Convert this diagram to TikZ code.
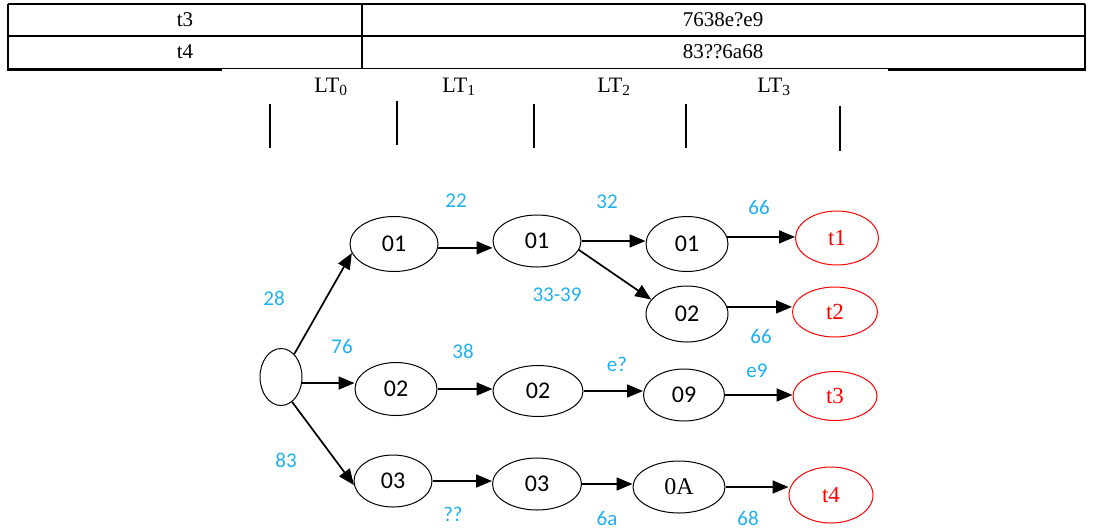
\documentclass[tikz,border=0pt]{standalone}
\usepackage{fontspec}
\setmainfont{Liberation Serif}
\newfontfamily\calfont{Carlito}
\usetikzlibrary{shapes.geometric,arrows.meta}
\definecolor{lblblue}{RGB}{30,176,240}
\tikzset{
  x=1pt, y=-1pt,
  st/.style={ellipse, draw=black, line width=1pt, inner sep=0pt,
             font=\calfont\fontsize{24}{26}\selectfont},
  fin/.style={ellipse, draw=red, line width=1pt, inner sep=0pt, text=red,
              font=\fontsize{23}{25}\selectfont},
  lbl/.style={text=lblblue, font=\calfont\fontsize{21}{23}\selectfont, inner sep=0pt},
  arr/.style={line width=1.7pt, -{Triangle[length=16pt,width=13pt]}},
  tbl/.style={line width=1.3pt},
  cell/.style={font=\fontsize{21}{23}\selectfont, inner sep=0pt},
  bar/.style={line width=1.3pt},
  lt/.style={font=\fontsize{22}{24}\selectfont, inner sep=0pt}
}
\begin{document}
\begin{tikzpicture}
\useasboundingbox (0,0) rectangle (1094,531);

% table of paths
\draw[tbl] (8,4) -- (1085,4);
\draw[tbl] (8,36) -- (1085,36);
\draw[tbl] (8,68.5) -- (1085,68.5);
\draw[line width=3pt] (7,69.5) -- (222,69.5);
\draw[line width=3pt] (888,69.5) -- (1086,69.5);
\draw[tbl] (8,4) -- (8,69);
\draw[tbl] (362,4) -- (362,68.5);
\draw[tbl] (1085,4) -- (1085,69);
\node[cell] (r3a) at (185,20) {t3};
\node[cell] (r3b) at (723,20) {7638e?e9};
\node[cell] (r4a) at (185,52) {t4};
\node[cell] (r4b) at (723,52) {83??6a68};

% levels
\node[lt] (lt0) at (331,87) {LT\textsubscript{0}};
\node[lt] (lt1) at (459,87) {LT\textsubscript{1}};
\node[lt] (lt2) at (614,87) {LT\textsubscript{2}};
\node[lt] (lt3) at (774,87) {LT\textsubscript{3}};
\draw[bar] (270,104) -- (270,148);
\draw[bar] (397,101) -- (397,145);
\draw[bar] (534,104) -- (534,148);
\draw[bar] (686,104) -- (686,148);
\draw[bar] (840,106) -- (840,151);

% states
\node[st, minimum width=42pt, minimum height=57pt] (root) at (281,377) {};
\node[st, minimum width=88pt, minimum height=55pt] (a1) at (394,244) {01};
\node[st, minimum width=82pt, minimum height=53pt] (a2) at (396,389) {02};
\node[st, minimum width=78pt, minimum height=52pt] (a3) at (393,481) {03};
\node[st, minimum width=88pt, minimum height=52pt] (b1) at (537,241) {01};
\node[st, minimum width=90pt, minimum height=51pt] (b2) at (538,391) {02};
\node[st, minimum width=89pt, minimum height=52pt] (b3) at (537,484) {03};
\node[st, minimum width=82pt, minimum height=55pt] (c1) at (687,244) {01};
\node[st, minimum width=82pt, minimum height=56pt] (c2) at (687,314) {02};
\node[st, minimum width=81pt, minimum height=52pt] (c3) at (684,395) {09};
\node[st, minimum width=92pt, minimum height=52pt, font=\fontsize{24}{26}\selectfont] (c4) at (679,487) {0A};
\node[fin, minimum width=83pt, minimum height=54pt] (t1) at (837,238) {t1};
\node[fin, minimum width=85pt, minimum height=50pt] (t2) at (835,312) {t2};
\node[fin, minimum width=84pt, minimum height=49pt] (t3) at (835,396) {t3};
\node[fin, minimum width=84pt, minimum height=56pt] (t4) at (831,495) {t4};

% transitions
\draw[arr] (root.60) -- (a1.192);
\draw[arr] (root.-16) -- (a2.west |- root.-16);
\draw[arr] (root.-66) -- (a3.186);
\draw[arr] (a1.-5) -- (b1.west |- a1.-5);
\draw[arr] (a2.east) -- (b2.west |- a2.east);
\draw[arr] (a3.east) -- (b3.west |- a3.east);
\draw[arr] (b1.east) -- (c1.west |- b1.east);
\draw[arr] (b1.-12) -- (c2.158);
\draw[arr] (b2.east) -- (c3.west |- b2.east);
\draw[arr] (b3.east) -- (c4.west |- b3.east);
\draw[arr] (c1.10) -- (t1.west |- c1.10);
\draw[arr] (c2.10) -- (t2.west |- c2.10);
\draw[arr] (c3.east) -- (t3.west |- c3.east);
\draw[arr] (c4.east) -- (t4.west |- c4.east);

% byte labels
\node[lbl] (l28) at (274,298) {28};
\node[lbl] (l76) at (342,346) {76};
\node[lbl] (l83) at (286,460) {83};
\node[lbl] (l22) at (456,201) {22};
\node[lbl] (l38) at (463,351) {38};
\node[lbl] (lqq) at (453,514) {??};
\node[lbl] (l32) at (607,202) {32};
\node[lbl] (l3339) at (557,295) {33-39};
\node[lbl] (leq) at (617,364) {e?};
\node[lbl] (l6a) at (607,518) {6a};
\node[lbl] (l66a) at (759,207) {66};
\node[lbl] (l66b) at (761,336) {66};
\node[lbl] (le9) at (757,371) {e9};
\node[lbl] (l68) at (748,518) {68};
\end{tikzpicture}
\end{document}
